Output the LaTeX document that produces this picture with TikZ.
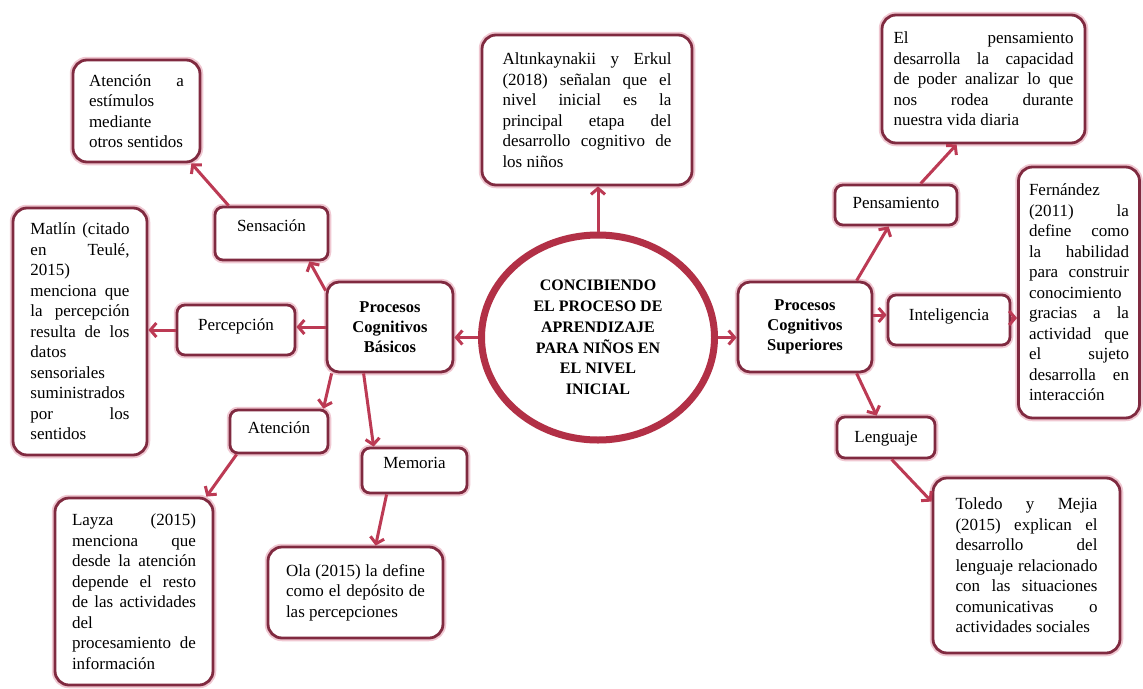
\documentclass[tikz,border=0pt]{standalone}
\usepackage{fontspec}
\setmainfont{Liberation Serif}
\usetikzlibrary{arrows.meta,shapes.geometric}
\definecolor{boxc}{RGB}{128,42,64}
\definecolor{glowc}{RGB}{240,200,210}
\definecolor{arrc}{RGB}{188,58,84}
\definecolor{ringc}{RGB}{178,48,70}
% one fully justified line of a paragraph
\newcommand{\jl}[1]{\makebox[\linewidth][s]{#1}\\}

\begin{document}
\begin{tikzpicture}[x=1pt,y=-1pt,
  txt/.style={font=\fontsize{17}{20.5}\selectfont},
  card/.style={draw=boxc, line width=2.8pt, fill=white, rounded corners=14pt,
    inner sep=0pt, txt, preaction={draw=glowc, line width=6.5pt}},
  tag/.style={card, rounded corners=8pt},
  hub/.style={card, rounded corners=12pt, align=center,
    font=\fontsize{16.5}{20.3}\selectfont\bfseries},
  arr/.style={draw=arrc, line width=3pt, -{Straight Barb[length=6pt,width=14pt]}},
]
\fill[white] (0,0) rectangle (1143,688);
\useasboundingbox (0,0) rectangle (1143,688);

% central topic
\node[draw=ringc, line width=7pt, ellipse, minimum width=233pt, minimum height=205pt,
  inner sep=0pt, align=center, font=\fontsize{16}{20.8}\selectfont\bfseries]
  (core) at (598,337.5) {CONCIBIENDO\\EL PROCESO DE\\APRENDIZAJE\\PARA NIÑOS EN\\EL NIVEL\\INICIAL};

\node[card, minimum width=210pt, minimum height=150pt] (alt) at (587,110)
  {\parbox{169pt}{\jl{Altınkaynakii y Erkul}\jl{(2018) señalan que el}\jl{nivel inicial es la}\jl{principal etapa del}\jl{desarrollo cognitivo de}los niños}};

% basic cognitive processes
\node[hub, minimum width=126pt, minimum height=90pt] (basic) at (390,327) {Procesos\\Cognitivos\\Básicos};

\node[tag, minimum width=113pt, minimum height=53pt, text height=24pt, text depth=29pt] (sens) at (271.5,233.5) {Sensación};
\node[card, minimum width=127pt, minimum height=102pt] (estim) at (136.5,111)
  {\parbox{95pt}{\jl{Atención a}estímulos\\mediante\\otros sentidos}};

\node[tag, minimum width=118pt, minimum height=50pt, text height=25pt, text depth=25pt] (perc) at (236,330) {Percepción};
\node[card, minimum width=134pt, minimum height=247pt] (matlin) at (80,331.5)
  {\parbox{99pt}{\jl{Matlín (citado}\jl{en Teulé,}2015)\\\jl{menciona que}\jl{la percepción}\jl{resulta de los}datos\\sensoriales\\suministrados\\\jl{por los}sentidos}};

\node[tag, minimum width=98pt, minimum height=43pt, text height=23pt, text depth=20pt] (aten) at (279,431.5) {Atención};
\node[card, minimum width=158pt, minimum height=187pt] (layza) at (134,591.5)
  {\parbox{124pt}{\jl{Layza (2015)}\jl{menciona que}\jl{desde la atención}\jl{depende el resto}\jl{de las actividades}del\\\jl{procesamiento de}información}};

\node[tag, minimum width=105pt, minimum height=45pt, text height=20pt, text depth=25pt] (mem) at (414.5,470.5) {Memoria};
\node[card, minimum width=175pt, minimum height=91pt] (ola) at (355.5,592.5)
  {\parbox{139pt}{\jl{Ola (2015) la define}\jl{como el depósito de}las percepciones}};

% higher cognitive processes
\node[hub, minimum width=134pt, minimum height=90pt] (high) at (805,327) {Procesos\\Cognitivos\\Superiores};

\node[tag, minimum width=122pt, minimum height=40pt, text height=23pt, text depth=17pt] (pens) at (896,205) {Pensamiento};
\node[card, minimum width=203pt, minimum height=128pt] (think) at (983.5,79)
  {\parbox{180pt}{\jl{El pensamiento}\jl{desarrolla la capacidad}\jl{de poder analizar lo que}\jl{nos rodea durante}nuestra vida diaria}};

\node[tag, minimum width=122pt, minimum height=50pt, text height=25pt, text depth=25pt] (intel) at (949,320) {Inteligencia};
\node[card, minimum width=121pt, minimum height=251pt] (fern) at (1079,292.5)
  {\parbox{100pt}{Fernández\\\jl{(2011) la}\jl{define como}\jl{la habilidad}\jl{para construir}conocimiento\\\jl{gracias a la}\jl{actividad que}\jl{el sujeto}\jl{desarrolla en}interacción}};

\node[tag, minimum width=98pt, minimum height=41pt, text height=25pt, text depth=16pt] (leng) at (886,437.5) {Lenguaje};
\node[card, minimum width=187pt, minimum height=175pt] (toledo) at (1026.5,565.5)
  {\parbox{142pt}{\jl{Toledo y Mejia}\jl{(2015) explican el}\jl{desarrollo del}\jl{lenguaje relacionado}\jl{con las situaciones}\jl{comunicativas o}actividades sociales}};

% connectors
\draw[arr] (core.north) -- (core.north |- alt.south);
\draw[arr] (core.west) -- (core.west -| basic.east);
\draw[arr] (core.east) -- (core.east -| high.west);

\draw[arr] ([yshift=-10pt]basic.north west) -- ([xshift=-20pt]sens.south east);
\draw[arr] ([xshift=15pt]sens.north west) -- ([xshift=-10pt]estim.south east);
\draw[arr] (basic.west) -- (basic.west -| perc.east);
\draw[arr] (perc.west) -- (perc.west -| matlin.east);
\draw[arr] ([xshift=6pt]basic.south west) -- ([xshift=-6pt]aten.north east);
\draw[arr] ([xshift=38pt]basic.south west) -- ([xshift=13pt]mem.north west);
\draw[arr] ([xshift=8pt]aten.south west) -- ([xshift=-8pt]layza.north east);
\draw[arr] ([xshift=26pt]mem.south west) -- ([xshift=109pt]ola.north west);

\draw[arr] ([xshift=120pt]high.north west) -- ([xshift=55pt]pens.south west);
\draw[arr] ([xshift=87pt]pens.north west) -- ([xshift=76pt]think.south west);
\draw[arr] ([yshift=12pt]high.east) -- ([yshift=12pt]high.east -| intel.west);
\draw[arr] ([yshift=2pt]intel.east) -- ([yshift=2pt]intel.east -| fern.west);
\draw[arr] ([xshift=120pt]high.south west) -- ([xshift=41pt]leng.north west);
\draw[arr] ([xshift=56pt]leng.south west) -- ([yshift=-25pt]toledo.north west);
\end{tikzpicture}
\end{document}
